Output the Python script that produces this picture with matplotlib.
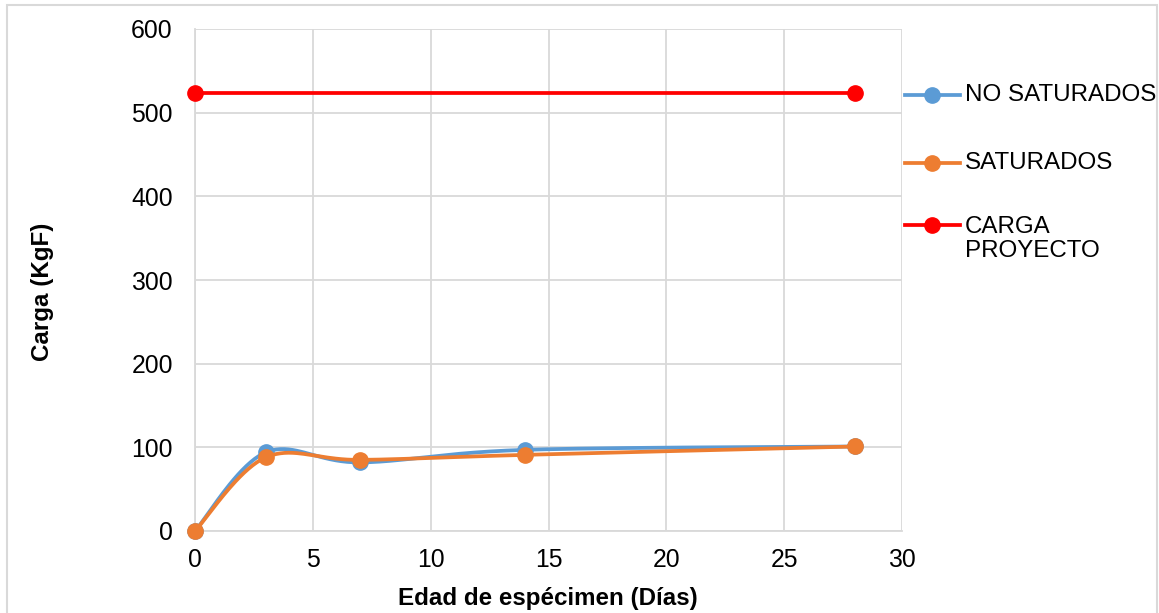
import numpy as np
import matplotlib
matplotlib.use("Agg")
import matplotlib.pyplot as plt
from matplotlib.patches import Rectangle
from matplotlib.lines import Line2D

plt.rcParams['font.family'] = ['Liberation Sans', 'DejaVu Sans']

dias = [0, 3, 7, 14, 28]
no_saturados = [0, 94, 82, 97, 101]
saturados = [0, 88, 85, 91, 101]
proyecto_x = [0, 28]
proyecto_y = [523, 523]
series_names = ['NO SATURADOS', 'SATURADOS', 'CARGA\nPROYECTO']

W, H = 1159, 613

def smooth(x, y, n=40):
    # Excel-style smoothed line (Catmull-Rom Bezier segments)
    P = np.column_stack([x, y]).astype(float)
    out = []
    for i in range(len(P) - 1):
        p0 = P[i - 1] if i > 0 else P[i]
        p1, p2 = P[i], P[i + 1]
        p3 = P[i + 2] if i + 2 < len(P) else P[i + 1]
        c1 = p1 + (p2 - p0) / 6
        c2 = p2 - (p3 - p1) / 6
        t = np.linspace(0, 1, n)[:, None]
        seg = (1 - t) ** 3 * p1 + 3 * (1 - t) ** 2 * t * c1 + 3 * (1 - t) * t ** 2 * c2 + t ** 3 * p2
        out.append(seg if i == 0 else seg[1:])
    s = np.vstack(out)
    return s[:, 0], s[:, 1]

fig = plt.figure(figsize=(W / 100, H / 100), dpi=100)
ax = fig.add_axes([195 / W, 1 - 531 / H, (902 - 195) / W, (531 - 29) / H])

blue = '#5B9BD5'
orange = '#ED7D31'
red = '#FF0000'
LW = 2.7
MS = 11

sx, sy = smooth(dias, no_saturados)
ax.plot(sx, sy, color=blue, lw=LW, zorder=3, solid_capstyle='round')
ax.plot(dias, no_saturados, 'o', color=blue, ms=MS, zorder=4)
sx, sy = smooth(dias, saturados)
ax.plot(sx, sy, color=orange, lw=LW, zorder=5, solid_capstyle='round')
ax.plot(dias, saturados, 'o', color=orange, ms=MS, zorder=6)
ax.plot(proyecto_x, proyecto_y, color=red, lw=LW, zorder=5)
ax.plot(proyecto_x, proyecto_y, 'o', color=red, ms=MS, zorder=6)

ax.set_xlim(0, 30)
ax.set_ylim(0, 600)
ax.set_xticks(range(0, 31, 5))
ax.set_yticks(range(0, 601, 100))
ax.grid(True, color='#D9D9D9', lw=1.3)
ax.set_axisbelow(True)
for s in ['top', 'right']:
    ax.spines[s].set_visible(False)
for s in ['left', 'bottom']:
    ax.spines[s].set_color('#D9D9D9')
    ax.spines[s].set_linewidth(1.3)
ax.tick_params(length=0, labelsize=17.8)
ax.tick_params(axis='y', pad=16)
ax.tick_params(axis='x', pad=12)
for a in ax.lines:
    a.set_clip_on(False)

fig.text(548 / W, 1 - 599 / H, 'Edad de espécimen (Días)', fontsize=17.4,
         fontweight='bold', ha='center', va='center')
fig.text(42 / W, 1 - 292 / H, 'Carga (KgF)', fontsize=17.4, fontweight='bold',
         ha='center', va='center', rotation=90)

# legend drawn at the right
for col, name, yc in zip((blue, orange, red), series_names, (95, 163, 225)):
    yf = 1 - yc / H
    fig.add_artist(Line2D([905 / W, 960 / W], [yf, yf], color=col, lw=LW,
                          transform=fig.transFigure))
    fig.add_artist(Line2D([932 / W], [yf], color=col, marker='o', ms=MS,
                          transform=fig.transFigure))
    if '\n' in name:
        fig.text(965 / W, yf + 9 / H, name, fontsize=17.4, ha='left', va='top',
                 linespacing=1.12)
    else:
        fig.text(965 / W, yf, name, fontsize=17.4, ha='left', va='center')

fig.patches.append(Rectangle((7 / W, -0.05), (1157 - 7) / W, 1 - 5 / H + 0.05,
                             transform=fig.transFigure, fill=False,
                             edgecolor='#D9D9D9', lw=1.5))

fig.savefig('out.png', dpi=100)
